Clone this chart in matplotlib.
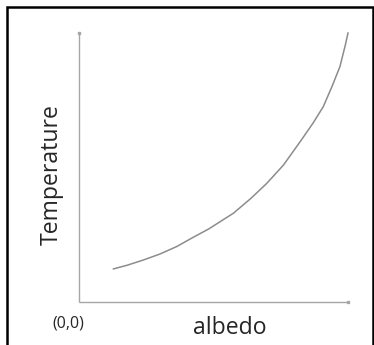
import matplotlib
matplotlib.use("Agg")
import matplotlib.pyplot as plt
from matplotlib.patches import Rectangle

plt.rcParams['font.family'] = ['Open Sans', 'DejaVu Sans']

# Temperature vs albedo curve (normalised axis units)
albedo = [0.128, 0.18, 0.239, 0.30, 0.363, 0.42, 0.483, 0.53, 0.574, 0.64,
          0.698, 0.76, 0.825, 0.87, 0.908, 0.94, 0.970, 0.99, 1.0]
temperature = [0.123, 0.137, 0.156, 0.178, 0.206, 0.238, 0.272, 0.302, 0.330, 0.386,
               0.441, 0.509, 0.600, 0.665, 0.726, 0.80, 0.875, 0.955, 1.0]

x_label = "albedo"
y_label = "Temperature"
origin_label = "(0,0)"

W, H, DPI = 374, 345, 100
fig = plt.figure(figsize=(W / DPI, H / DPI), dpi=DPI)

# frame around the whole figure
fig.patches.append(Rectangle((7 / W, -0.05), (373 - 7) / W - 0.001, (H - 7) / H + 0.05,
                             transform=fig.transFigure, fill=False,
                             edgecolor='black', linewidth=1.8))

left, right, top, bottom = 79, 348, 33, 302
ax = fig.add_axes([left / W, (H - bottom) / H, (right - left) / W, (bottom - top) / H])
ax.set_xlim(0, 1)
ax.set_ylim(0, 1)
ax.axis('off')

axis_color = '#a6a6a6'
ax.plot([0, 1], [0, 0], color=axis_color, lw=1.0, solid_capstyle='butt', clip_on=False)
ax.plot([0, 0], [0, 1], color=axis_color, lw=1.0, solid_capstyle='butt', clip_on=False)
ax.plot([1], [0], marker='s', ms=2, color=axis_color, clip_on=False)
ax.plot([0], [1], marker='s', ms=2, color=axis_color, clip_on=False)

ax.plot(albedo, temperature, color='#8c8c8c', lw=1.1, clip_on=False,
        solid_joinstyle='round')

fig.text(52 / W, 1 - 175 / H, y_label, rotation=90, ha='center', va='center',
         fontsize=16.6, color='#262626')
fig.text(230 / W, 1 - 328 / H, x_label, ha='center', va='center',
         fontsize=16.6, color='#262626')
fig.text(68 / W, 1 - 323 / H, origin_label, ha='center', va='center',
         fontsize=11.5, color='#262626')

fig.savefig('out.png', dpi=DPI)
